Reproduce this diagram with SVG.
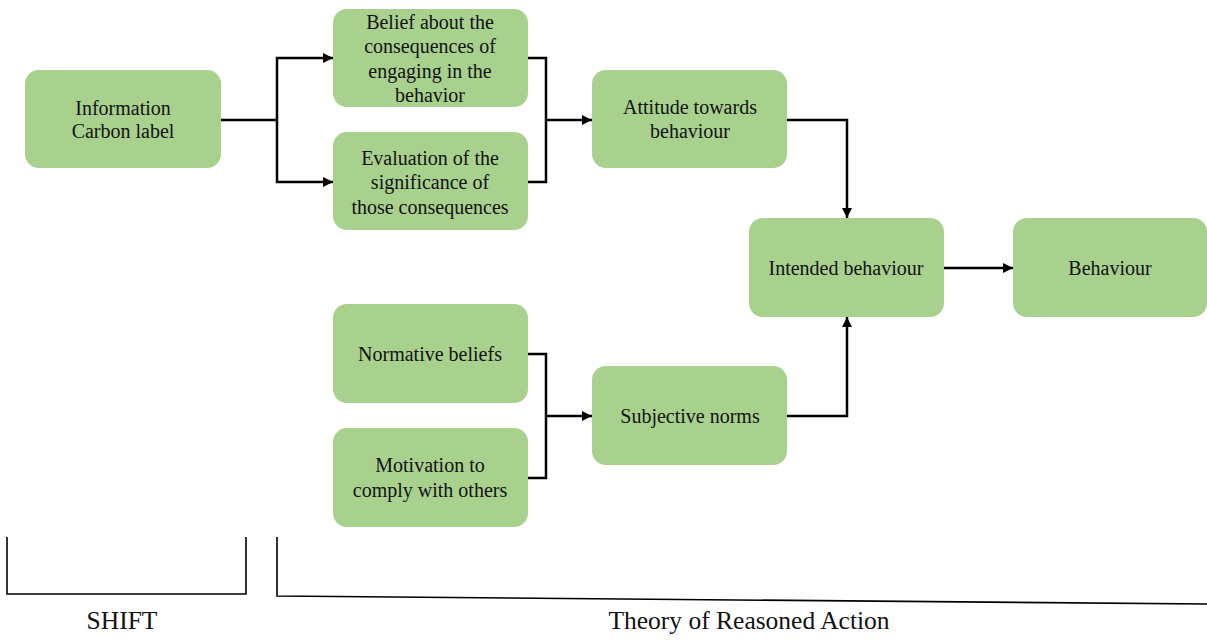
<svg xmlns="http://www.w3.org/2000/svg" width="1207" height="640" viewBox="0 0 1207 640">
  <style>
    .box { fill: #a9d18e; }
    .lbl { font-family: "Liberation Serif", "Times New Roman", serif; font-size: 20px; fill: #111; text-anchor: middle; }
    .cap { font-family: "Liberation Serif", "Times New Roman", serif; font-size: 25.5px; fill: #111; text-anchor: middle; }
    .wire { fill: none; stroke: #000; stroke-width: 2.5; }
    .brk { fill: none; stroke: #000; stroke-width: 1.6; }
  </style>
  <defs>
    <marker id="arr" viewBox="0 0 10 10" refX="10" refY="5" markerWidth="4" markerHeight="4" orient="auto" markerUnits="strokeWidth">
      <path d="M0,0 L10,5 L0,10 Z" fill="#000"/>
    </marker>
  </defs>
  <rect width="1207" height="640" fill="#fff"/>

  <g id="info">
    <rect class="box" x="25" y="70" width="196" height="98" rx="14"/>
    <text class="lbl" x="123" y="115">Information</text>
    <text class="lbl" x="123" y="138">Carbon label</text>
  </g>
  <g id="belief">
    <rect class="box" x="333" y="9" width="195" height="98" rx="14"/>
    <text class="lbl" x="430" y="29">Belief  about the</text>
    <text class="lbl" x="430" y="53">consequences of</text>
    <text class="lbl" x="430" y="78">engaging  in the</text>
    <text class="lbl" x="430" y="102">behavior</text>
  </g>
  <g id="evaluation">
    <rect class="box" x="333" y="132" width="195" height="98" rx="14"/>
    <text class="lbl" x="430" y="165">Evaluation  of the</text>
    <text class="lbl" x="430" y="189">significance  of</text>
    <text class="lbl" x="430" y="214">those consequences</text>
  </g>
  <g id="attitude">
    <rect class="box" x="592" y="70" width="195" height="98" rx="14"/>
    <text class="lbl" x="690" y="114">Attitude  towards</text>
    <text class="lbl" x="690" y="138">behaviour</text>
  </g>
  <g id="intended">
    <rect class="box" x="749" y="218" width="195" height="99" rx="14"/>
    <text class="lbl" x="846" y="275">Intended behaviour</text>
  </g>
  <g id="behaviour">
    <rect class="box" x="1013" y="218" width="194" height="99" rx="14"/>
    <text class="lbl" x="1110" y="275">Behaviour</text>
  </g>
  <g id="normative">
    <rect class="box" x="333" y="304" width="195" height="99" rx="14"/>
    <text class="lbl" x="430" y="361">Normative  beliefs</text>
  </g>
  <g id="motivation">
    <rect class="box" x="333" y="428" width="195" height="99" rx="14"/>
    <text class="lbl" x="430" y="472">Motivation  to</text>
    <text class="lbl" x="430" y="497">comply with others</text>
  </g>
  <g id="subjective">
    <rect class="box" x="592" y="366" width="195" height="99" rx="14"/>
    <text class="lbl" x="690" y="423">Subjective norms</text>
  </g>

  <g id="connectors">
    <path class="wire" d="M221,120 H277"/>
    <path class="wire" d="M277,120 V58 H333" marker-end="url(#arr)"/>
    <path class="wire" d="M277,120 V182 H333" marker-end="url(#arr)"/>
    <path class="wire" d="M528,58 H546 V182 H528"/>
    <path class="wire" d="M546,120 H592" marker-end="url(#arr)"/>
    <path class="wire" d="M787,120 H847 V218" marker-end="url(#arr)"/>
    <path class="wire" d="M944,268 H1013" marker-end="url(#arr)"/>
    <path class="wire" d="M787,416 H847 V317" marker-end="url(#arr)"/>
    <path class="wire" d="M528,354 H546 V478 H528"/>
    <path class="wire" d="M546,416 H592" marker-end="url(#arr)"/>
  </g>

  <g id="shift-bracket">
    <path class="brk" d="M7,537 V594 H246 V537"/>
    <text class="cap" x="122" y="629">SHIFT</text>
  </g>
  <g id="tra-bracket">
    <path class="brk" d="M277,537 V596 L1207,604"/>
    <text class="cap" x="749" y="629">Theory of Reasoned Action</text>
  </g>
</svg>
